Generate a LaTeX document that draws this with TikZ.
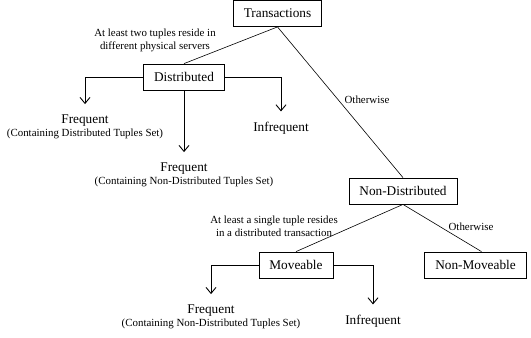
\documentclass[tikz,border=0pt]{standalone}
\usepackage{fontspec}
\setmainfont{Liberation Serif}
\usetikzlibrary{arrows.meta,positioning}
\newcommand{\bigfont}{\fontsize{13.3bp}{16bp}\selectfont}
\newcommand{\notefont}{\fontsize{10.9bp}{13bp}\selectfont}
\tikzset{
    classbox/.style={draw,line width=0.8bp,font=\bigfont,inner xsep=10.5bp,inner ysep=0pt,minimum height=26bp},
    leaf/.style={font=\bigfont,inner sep=0pt,anchor=base},
    note/.style={font=\notefont,inner sep=0pt,align=center},
    branch/.style={line width=0.6bp},
    arr/.style={line width=0.9bp,-{Straight Barb[length=6bp,width=10bp]},shorten >=10bp}
}
\begin{document}
\begin{tikzpicture}[x=1bp,y=-1bp]
        \useasboundingbox (0,0) rectangle (531,337);
        % class boxes
        \node[classbox] (trans) at (277.5,13.5) {Transactions};
        \node[classbox] (dist) at (184,77) {Distributed};
        \node[classbox] (nondist) at (403,191) {Non-Distributed};
        \node[classbox] (move) at (296,265) {Moveable};
        \node[classbox] (nonmove) at (475.5,265) {Non-Moveable};
        % leaves
        \node[leaf] (fqdist) at (85,123) {Frequent};
        \node[note,below=2.5bp of fqdist] (fqdistnote) {(Containing Distributed Tuples Set)};
        \node[leaf] (fqnd) at (184,171) {Frequent};
        \node[note,below=2.5bp of fqnd] (fqndnote) {(Containing Non-Distributed Tuples Set)};
        \node[leaf] (infdist) at (281,131) {Infrequent};
        \node[leaf] (fqmove) at (211,313) {Frequent};
        \node[note,below=2.5bp of fqmove] (fqmovenote) {(Containing Non-Distributed Tuples Set)};
        \node[leaf] (infmove) at (373,324) {Infrequent};
        % branch labels
        \node[note] (twotuples) at (155,40) {At least two tuples reside in\\different physical servers};
        \node[note] (otherwiseA) at (367,100) {Otherwise};
        \node[note] (singletuple) at (274,226) {At least a single tuple resides\\in a distributed transaction};
        \node[note] (otherwiseB) at (471,227) {Otherwise};
        % connectors
        \draw[branch] (trans.south) -- (dist.north);
        \draw[branch] (trans.south) -- (nondist.north);
        \draw[branch] (nondist.south) -- (move.north);
        \draw[branch] (nondist.south) -- ([xshift=6bp]nonmove.north);
        \draw[arr] (dist.west) -| (fqdist.north);
        \draw[arr] (dist.south) -- (fqnd.north);
        \draw[arr] (dist.east) -| (infdist.north);
        \draw[arr] (move.west) -| (fqmove.north);
        \draw[arr] (move.east) -| (infmove.north);
    \end{tikzpicture}
\end{document}
